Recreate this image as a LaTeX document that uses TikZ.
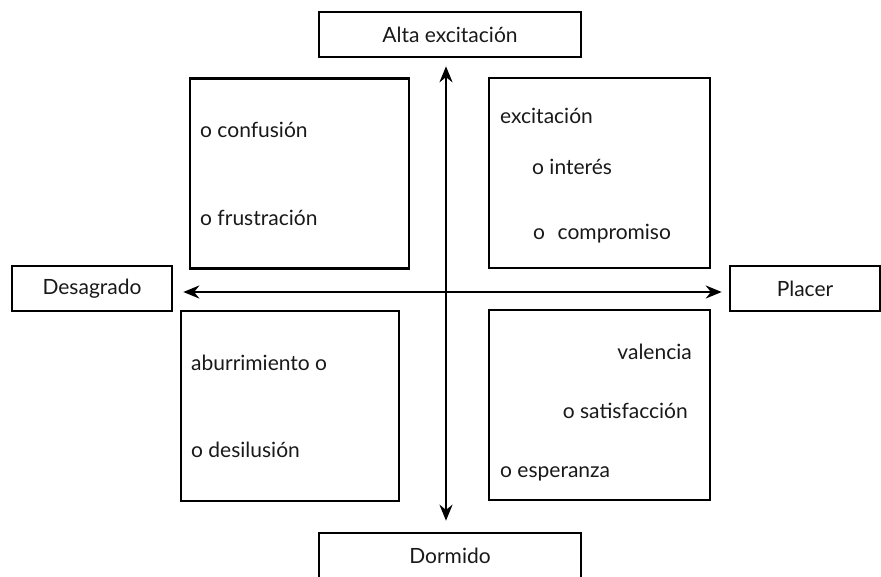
\documentclass[tikz,border=0pt]{standalone}
\usepackage{fontspec}
\setmainfont{Lato}
\usetikzlibrary{arrows.meta}
\begin{document}
\begin{tikzpicture}[x=1pt,y=-1pt,
    lbl/.style={draw,line width=2.6pt,minimum height=45pt,inner sep=0pt},
    quad/.style={draw,line width=2.6pt,minimum height=190pt,inner sep=0pt},
    txt/.style={anchor=base west,inner sep=0pt},
    ax/.style={line width=2.2pt,{Stealth[length=16pt,width=13pt]}-{Stealth[length=16pt,width=13pt]}},
    every node/.style={font=\fontsize{21}{25}\selectfont,text=black!90}]
  \useasboundingbox (0,0) rectangle (881,576);
  % ---- the four poles ----
  \node[lbl,minimum width=262pt] (alta) at (450,34.5) {Alta excitación};
  \node[lbl,minimum width=262pt] (dorm) at (450,555.5) {Dormido};
  \node[lbl,minimum width=160pt] (des)  at (92,288.5) {Desagrado};
  \node[lbl,minimum width=150pt] (pla)  at (805,288.5) {Placer};
  % ---- the four quadrants ----
  \foreach \n/\cx/\cy/\w in {tl/299.5/173.5/219, tr/599.5/173/221,
                             bl/290/406/218, br/599.5/405/221}{
    \node[quad,minimum width=\w pt] (\n) at (\cx,\cy) {};
  }
  % ---- the axes ----
  \coordinate (mid) at (446,292);
  \draw[ax,shorten <=10pt,shorten >=7pt] (des.east |- mid) -- (pla.west |- mid);
  \draw[ax,shorten <=8pt,shorten >=11pt] (alta.south -| mid) -- (dorm.north -| mid);
  % ---- words in the quadrants ----
  \node[txt] (conf) at (200,137) {o confusión};
  \node[txt] (frus) at (200,225) {o frustración};
  \node[txt] (exci) at (500,123) {excitación};
  \node[txt] (inte) at (532,174) {o interés};
  \node[txt] (comp) at (533,239) {o\hspace{0.6em}compromiso};
  \node[txt] (abur) at (191,370) {aburrimiento o};
  \node[txt] (desi) at (191,457) {o desilusión};
  \node[txt,anchor=base east] (vale) at (692,359) {valencia};
  \node[txt,anchor=base east] (sati) at (688,418) {o satisfacción};
  \node[txt] (espe) at (500,477) {o esperanza};
\end{tikzpicture}
\end{document}
